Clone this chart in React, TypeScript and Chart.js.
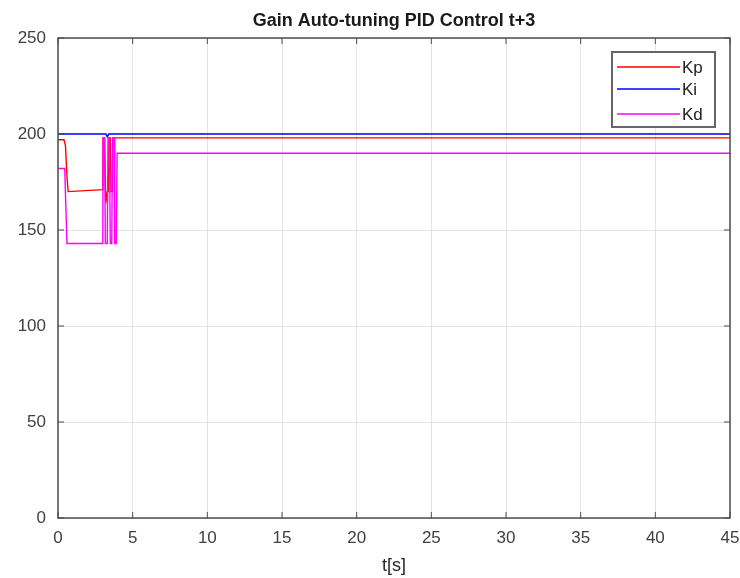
import React, { useEffect, useRef } from "react";
import { Chart, registerables } from "chart.js";

Chart.register(...registerables);

const chartTitle = "Gain Auto-tuning PID Control t+3";
const xAxisTitle = "t[s]";
const seriesNames = ["Kp", "Ki", "Kd"];
const seriesColors = ["rgb(255,0,0)", "rgb(0,0,255)", "rgb(255,0,255)"];

const kpTime = [0, 0.4, 0.5, 0.6, 0.68, 3.0, 3.02, 3.12, 3.2, 3.3, 3.38, 3.42, 3.5, 3.55, 3.62, 3.66, 45];
const kpValues = [197, 197, 194, 178, 170, 171, 198, 198, 164, 170, 170, 198, 198, 170, 170, 198, 198];

const kiTime = [0, 3.2, 3.3, 3.4, 45];
const kiValues = [200, 200, 198.5, 200, 200];

const kdTime = [0, 0.45, 0.6, 3.0, 3.02, 3.12, 3.17, 3.3, 3.35, 3.45, 3.5, 3.6, 3.65, 3.75, 3.8, 3.9, 3.96, 45];
const kdValues = [182, 182, 143, 143, 198, 198, 143, 143, 198, 198, 143, 143, 198, 198, 143, 143, 190, 190];

const xMin = 0;
const xMax = 45;
const xStep = 5;
const yMin = 0;
const yMax = 250;
const yStep = 50;

const toPoints = (ts: number[], vs: number[]) => ts.map((t, i) => ({ x: t, y: vs[i] }));

const framePlugin = {
  id: "matlabFrame",
  afterDraw(chart: any) {
    const { ctx, chartArea, scales } = chart;
    const { left, top, right, bottom } = chartArea;
    ctx.save();
    ctx.strokeStyle = "#4d4d4d";
    ctx.lineWidth = 1.5;
    ctx.strokeRect(left, top, right - left, bottom - top);
    ctx.lineWidth = 1;
    const tl = 6;
    scales.x.ticks.forEach((tk: any) => {
      const px = scales.x.getPixelForValue(tk.value);
      ctx.beginPath();
      ctx.moveTo(px, bottom);
      ctx.lineTo(px, bottom - tl);
      ctx.moveTo(px, top);
      ctx.lineTo(px, top + tl);
      ctx.stroke();
    });
    scales.y.ticks.forEach((tk: any) => {
      const py = scales.y.getPixelForValue(tk.value);
      ctx.beginPath();
      ctx.moveTo(left, py);
      ctx.lineTo(left + tl, py);
      ctx.moveTo(right, py);
      ctx.lineTo(right - tl, py);
      ctx.stroke();
    });

    // legend box inside the plot area (top-right)
    const boxW = 103;
    const boxH = 75;
    const bx = right - 15 - boxW;
    const by = top + 14;
    ctx.fillStyle = "#ffffff";
    ctx.fillRect(bx, by, boxW, boxH);
    ctx.strokeStyle = "#666666";
    ctx.lineWidth = 2;
    ctx.strokeRect(bx, by, boxW, boxH);
    ctx.font = "17px 'Liberation Sans', Arial, sans-serif";
    ctx.textBaseline = "middle";
    ctx.textAlign = "left";
    const rows = [by + 15, by + 37, by + 62];
    chart.data.datasets.forEach((ds: any, i: number) => {
      const yy = rows[i];
      ctx.strokeStyle = ds.borderColor;
      ctx.lineWidth = 1.5;
      ctx.beginPath();
      ctx.moveTo(bx + 5, yy);
      ctx.lineTo(bx + 68, yy);
      ctx.stroke();
      ctx.fillStyle = "#222222";
      ctx.fillText(ds.label, bx + 70, yy + 1);
    });
    ctx.restore();
  },
};

export default function App() {
  const canvasRef = useRef<HTMLCanvasElement | null>(null);

  useEffect(() => {
    if (!canvasRef.current) return;
    const chart = new Chart(canvasRef.current, {
      type: "line",
      data: {
        datasets: [
          {
            label: seriesNames[0],
            data: toPoints(kpTime, kpValues),
            borderColor: seriesColors[0],
            borderWidth: 1.4,
            pointRadius: 0,
            tension: 0,
            order: 2,
          },
          {
            label: seriesNames[1],
            data: toPoints(kiTime, kiValues),
            borderColor: seriesColors[1],
            borderWidth: 1.4,
            pointRadius: 0,
            tension: 0,
            order: 1,
          },
          {
            label: seriesNames[2],
            data: toPoints(kdTime, kdValues),
            borderColor: seriesColors[2],
            borderWidth: 1.4,
            pointRadius: 0,
            tension: 0,
            order: 0,
          },
        ],
      },
      options: {
        animation: false,
        responsive: false,
        maintainAspectRatio: false,
        layout: { padding: { left: 0, right: 0, top: 0, bottom: 0 } },
        plugins: {
          legend: { display: false },
          tooltip: { enabled: false },
          title: {
            display: true,
            text: chartTitle,
            fullSize: false,
            color: "#1a1a1a",
            font: { family: "'Liberation Sans', Arial, sans-serif", size: 18, weight: "bold", lineHeight: 1.2 },
            padding: { top: 10, bottom: 6.4 },
          },
        },
        scales: {
          x: {
            type: "linear",
            min: xMin,
            max: xMax,
            ticks: {
              stepSize: xStep,
              color: "#404040",
              padding: 10,
              maxRotation: 0,
              font: { family: "'Liberation Sans', Arial, sans-serif", size: 17 },
            },
            grid: { color: "#e3e3e3", drawTicks: false, lineWidth: 1 },
            border: { display: false },
            title: {
              display: true,
              text: xAxisTitle,
              color: "#262626",
              font: { family: "'Liberation Sans', Arial, sans-serif", size: 18 },
              padding: { top: 0, bottom: 1 },
            },
            afterFit(scale: any) {
              scale.height = 60;
              scale.paddingRight = 10;
              scale.paddingLeft = 5;
            },
          },
          y: {
            type: "linear",
            min: yMin,
            max: yMax,
            ticks: {
              stepSize: yStep,
              color: "#404040",
              padding: 12,
              font: { family: "'Liberation Sans', Arial, sans-serif", size: 17 },
            },
            grid: { color: "#e3e3e3", drawTicks: false, lineWidth: 1 },
            border: { display: false },
            afterFit(scale: any) {
              scale.width = 58;
            },
          },
        },
      },
      plugins: [framePlugin],
    });
    return () => chart.destroy();
  }, []);

  return (
    <div style={{ position: "fixed", left: 0, top: 0, width: 740, height: 578, background: "#ffffff" }}>
      <canvas ref={canvasRef} width={740} height={578} style={{ display: "block" }} />
    </div>
  );
}
